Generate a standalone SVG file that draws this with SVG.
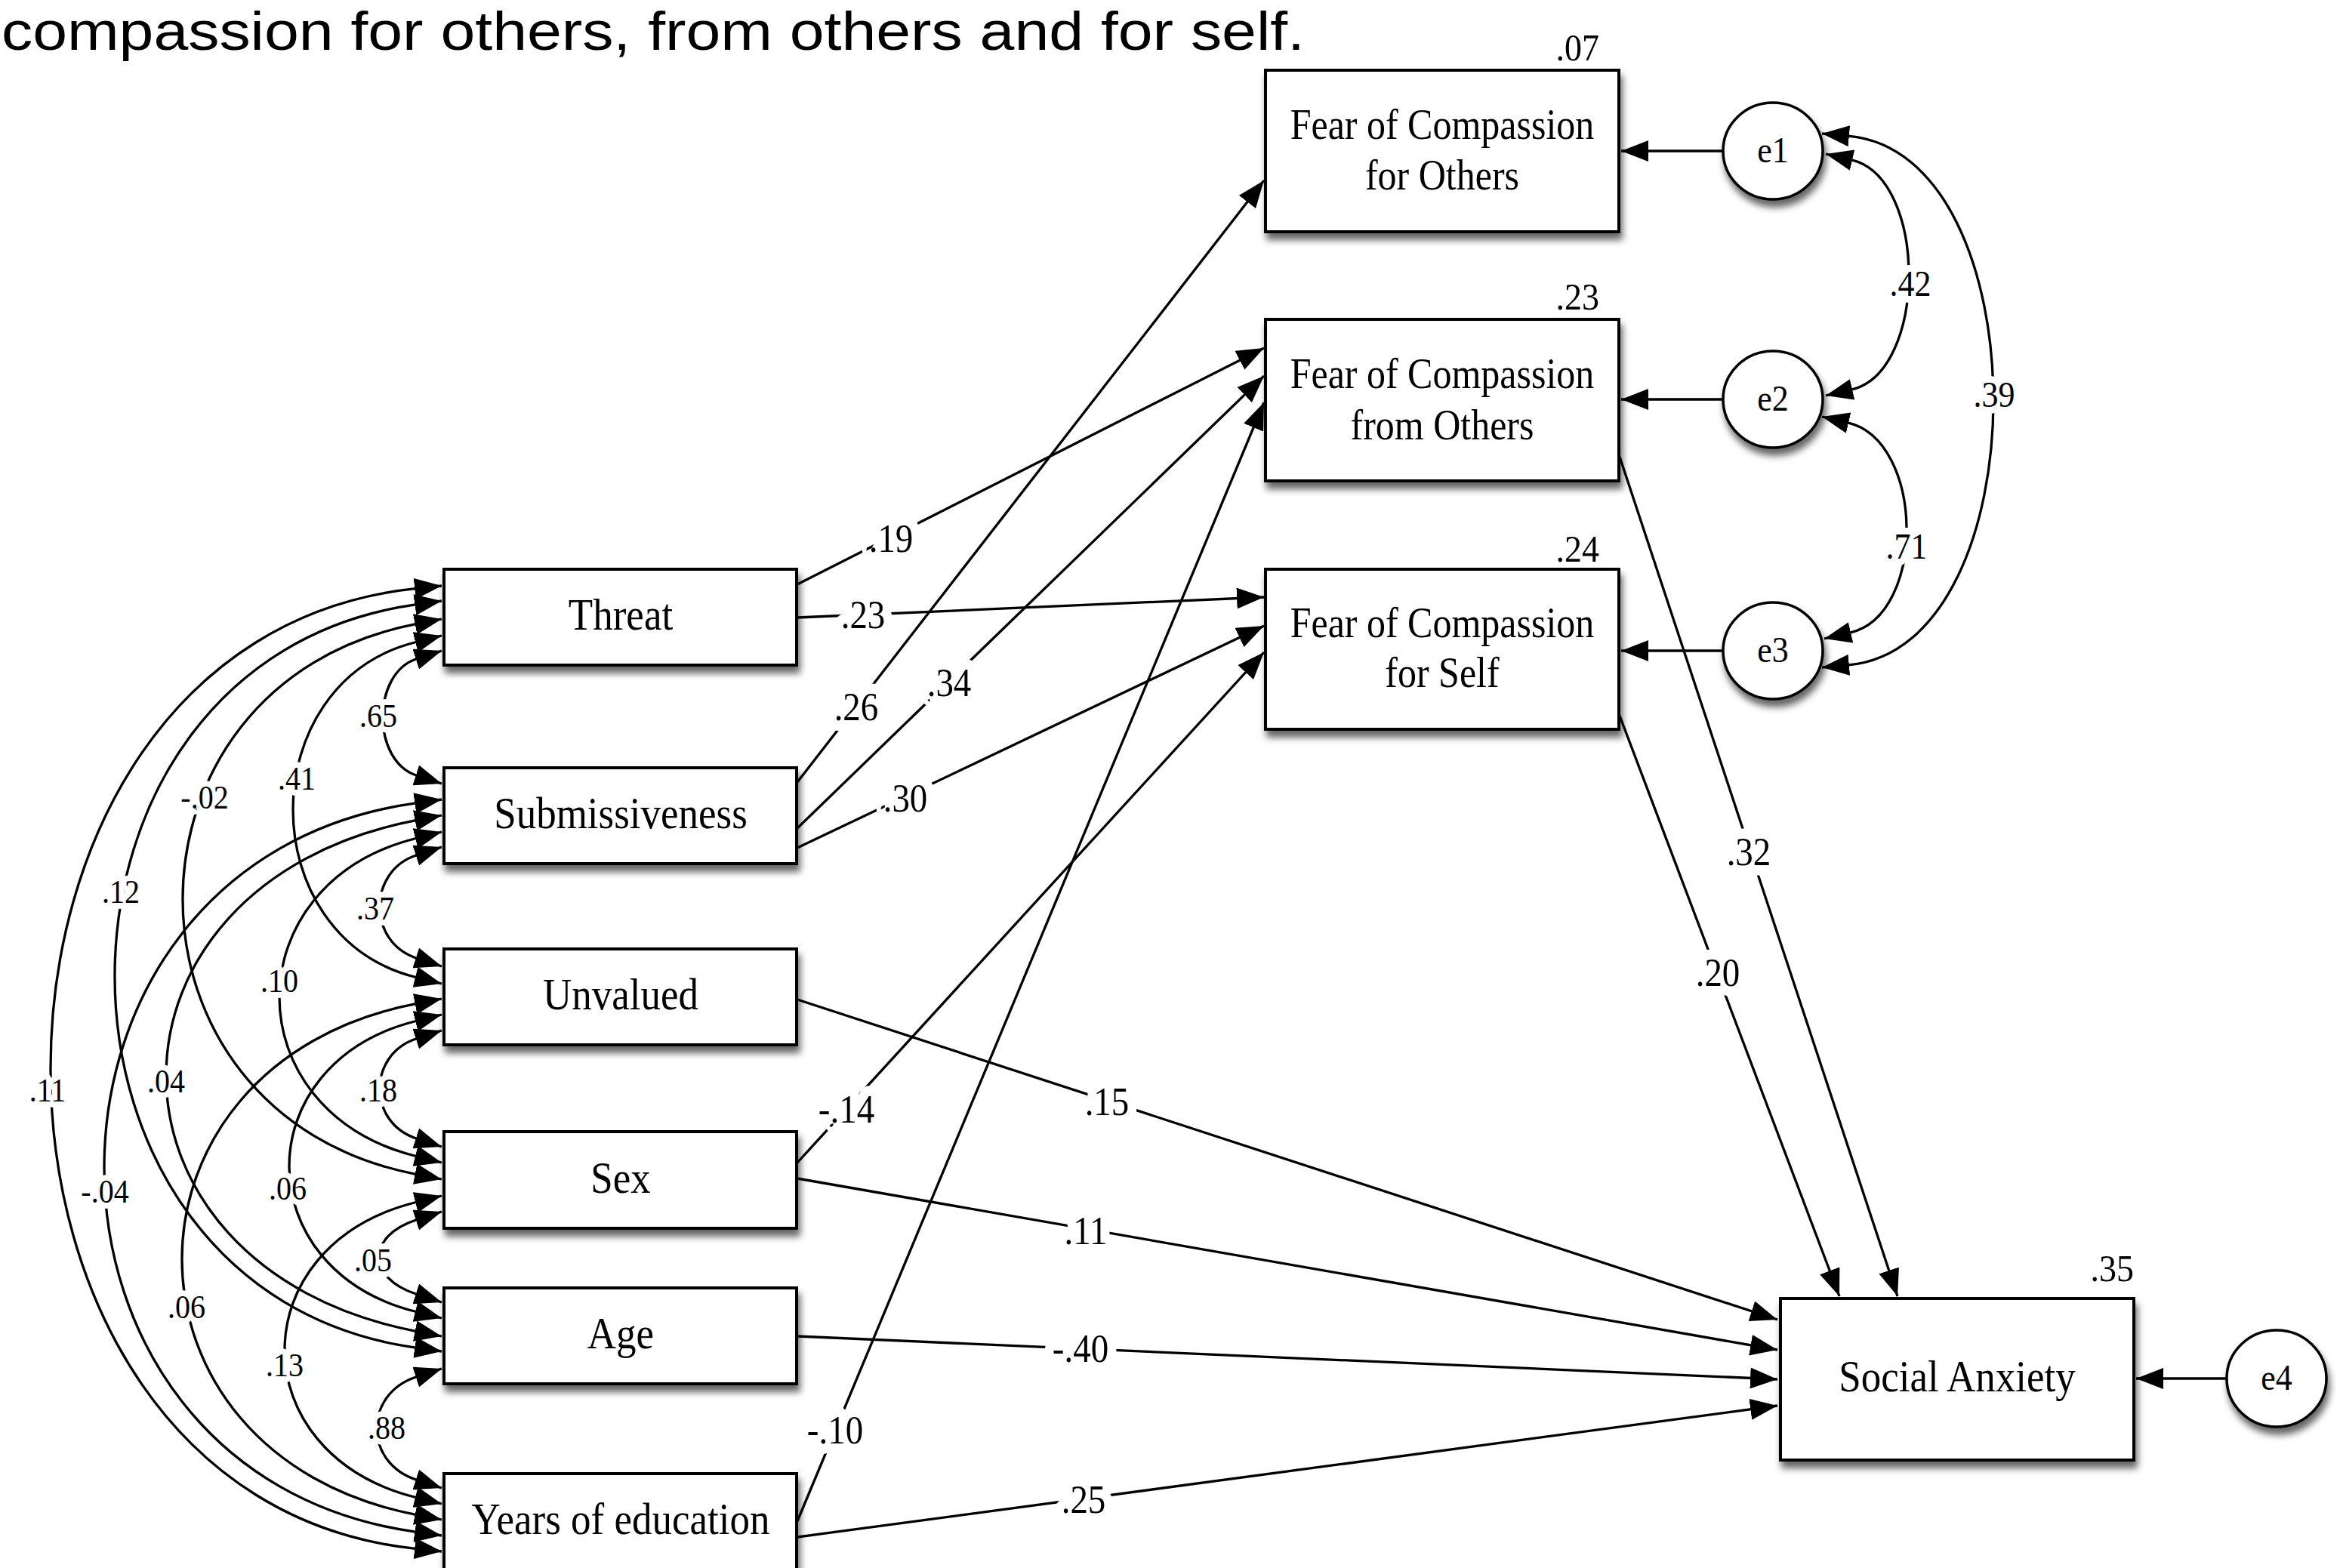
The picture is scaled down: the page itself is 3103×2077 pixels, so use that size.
<svg xmlns="http://www.w3.org/2000/svg" width="3103" height="2077" viewBox="0 0 3103 2077">
<style>
.bx{fill:#fff;stroke:#000;stroke-width:4}
.el{fill:#fff;stroke:#000;stroke-width:3.5}
.ln{fill:none;stroke:#000;stroke-width:3.3}
.ar{marker-end:url(#ah)}
.cv{marker-start:url(#ah);marker-end:url(#ah)}
.t{font-family:"Liberation Serif","Times New Roman",serif;text-anchor:middle;fill:#000;transform-box:fill-box;transform-origin:50% 80.5%;transform:scaleY(1.12)}
.nb{font-size:53px}
.nf{font-size:50px}
.ne{font-size:44px}
.r2{font-size:46px;text-anchor:end}
.lm{font-size:47px;paint-order:stroke;stroke:#fff;stroke-width:24px;stroke-linejoin:round}
.ll{font-size:40px;paint-order:stroke;stroke:#fff;stroke-width:14px;stroke-linejoin:round}
.lr{font-size:44px;paint-order:stroke;stroke:#fff;stroke-width:16px;stroke-linejoin:round}
.title{font-family:"Liberation Sans",Arial,sans-serif;font-size:72px;fill:#000}
</style>
<defs>
<filter id="sh" x="-10%" y="-15%" width="125%" height="145%">
<feDropShadow dx="3" dy="9" stdDeviation="5" flood-color="#000" flood-opacity="0.6"/>
</filter>
<marker id="ah" viewBox="0 0 36 28" refX="36" refY="14" markerWidth="36" markerHeight="28" markerUnits="userSpaceOnUse" orient="auto-start-reverse">
<path d="M0,0 L36,14 L0,28 z" fill="#000"/>
</marker>
</defs>
<rect width="3103" height="2077" fill="#fff"/>
<text class="title" x="2" y="66" textLength="1726" lengthAdjust="spacingAndGlyphs">compassion for others, from others and for self.</text>

<g id="connectors">
<path class="ln cv" d="M585,776 L550.2,779.7 C-94.1,847.4 -94.1,1983.6 550.2,2051.3 L585,2055"/>
<path class="ln cv" d="M585,796 L550.3,800.9 C19.2,875.5 19.2,1710.5 550.3,1785.1 L585,1790"/>
<path class="ln cv" d="M585,1059 L550.3,1063.9 C0.6,1141.1 0.6,1951.9 550.3,2029.1 L585,2034"/>
<path class="ln cv" d="M585,820 L550.6,826.7 C139.1,906.7 139.1,1475.3 550.6,1555.3 L585,1562"/>
<path class="ln cv" d="M585,1080 L550.6,1086.7 C109.8,1172.4 109.8,1677.6 550.6,1763.3 L585,1770"/>
<path class="ln cv" d="M585,1323 L550.6,1329.7 C137.8,1409.9 137.8,1926.1 550.6,2006.3 L585,2013"/>
<path class="ln cv" d="M585,842 L551,850.5 C333.7,904.7 333.7,1240.3 551,1294.5 L585,1303"/>
<path class="ln cv" d="M585,1102 L551,1110.5 C309.7,1170.7 309.7,1471.3 551,1531.5 L585,1540"/>
<path class="ln cv" d="M585,1344 L551,1352.5 C327,1408.3 327,1681.7 551,1737.5 L585,1746"/>
<path class="ln cv" d="M585,1584 L551,1592.5 C319,1650.3 319,1925.7 551,1983.5 L585,1992"/>
<path class="ln cv" d="M585,862 L551.7,872.8 C492.1,892.2 492.1,1007.8 551.7,1027.2 L585,1038"/>
<path class="ln cv" d="M585,1122 L551.7,1132.8 C486.6,1154 486.6,1248 551.7,1269.2 L585,1280"/>
<path class="ln cv" d="M585,1365 L551.7,1375.8 C486.6,1397 486.6,1487 551.7,1508.2 L585,1519"/>
<path class="ln cv" d="M585,1605 L551.7,1615.8 C485.4,1637.3 485.4,1692.7 551.7,1714.2 L585,1725"/>
<path class="ln cv" d="M585,1813 L551.7,1823.8 C481.4,1846.6 481.4,1937.4 551.7,1960.2 L585,1971"/>
<path class="ln cv" d="M2413,177 L2447.9,180.1 C2704,202.5 2704,858.5 2447.9,880.9 L2413,884"/>
<path class="ln cv" d="M2418,204 L2452.1,211.9 C2553.3,235.3 2553.3,492.7 2452.1,516.1 L2418,524"/>
<path class="ln cv" d="M2413,552 L2447.1,559.9 C2549,583.4 2552,814.6 2450.1,838.1 L2416,846"/>
<path class="ln ar" d="M1056,774 L1674,461"/>
<path class="ln ar" d="M1056,818 L1674,791"/>
<path class="ln ar" d="M1056,1036 L1674,239"/>
<path class="ln ar" d="M1056,1097 L1674,498"/>
<path class="ln ar" d="M1056,1123 L1674,829"/>
<path class="ln ar" d="M1056,1540 L1674,864"/>
<path class="ln ar" d="M1056,2015 L1674,533"/>
<path class="ln ar" d="M1056,1324 L2354,1748"/>
<path class="ln ar" d="M1056,1561 L2354,1788"/>
<path class="ln ar" d="M1056,1770 L2354,1827"/>
<path class="ln ar" d="M1056,2036 L2354,1862"/>
<path class="ln ar" d="M2145,605 L2513,1717"/>
<path class="ln ar" d="M2145,948 L2436,1717"/>
<path class="ln ar" d="M2283,200 L2147,200"/>
<path class="ln ar" d="M2283,529 L2147,529"/>
<path class="ln ar" d="M2283,862 L2147,862"/>
<path class="ln ar" d="M2950,1826 L2829,1826"/>
</g>

<g id="labels">
<text class="t ll" x="501" y="963">.65</text>
<text class="t ll" x="271" y="1071">-.02</text>
<text class="t ll" x="393" y="1046">.41</text>
<text class="t ll" x="160" y="1196">.12</text>
<text class="t ll" x="497" y="1218">.37</text>
<text class="t ll" x="370" y="1314">.10</text>
<text class="t ll" x="63" y="1459">.11</text>
<text class="t ll" x="220" y="1447">.04</text>
<text class="t ll" x="501" y="1459">.18</text>
<text class="t ll" x="139" y="1593">-.04</text>
<text class="t ll" x="381" y="1589">.06</text>
<text class="t ll" x="494" y="1684">.05</text>
<text class="t ll" x="247" y="1746">.06</text>
<text class="t ll" x="377" y="1823">.13</text>
<text class="t ll" x="512" y="1906">.88</text>
<text class="t lm" x="1180" y="731">.19</text>
<text class="t lm" x="1143" y="832">.23</text>
<text class="t lm" x="1134" y="954">.26</text>
<text class="t lm" x="1257" y="922">.34</text>
<text class="t lm" x="1199" y="1075">.30</text>
<text class="t lm" x="1121" y="1487">-.14</text>
<text class="t lm" x="1106" y="1912">-.10</text>
<text class="t lm" x="1466" y="1477">.15</text>
<text class="t lm" x="1438" y="1648">.11</text>
<text class="t lm" x="1431" y="1804">-.40</text>
<text class="t lm" x="1435" y="2004">.25</text>
<text class="t lm" x="2316" y="1146">.32</text>
<text class="t lm" x="2275" y="1306">.20</text>
<text class="t lr" x="2530" y="392">.42</text>
<text class="t lr" x="2525" y="740">.71</text>
<text class="t lr" x="2641" y="539">.39</text>
</g>

<g id="node-threat">
<rect class="bx" x="588" y="754" width="467" height="127" filter="url(#sh)"/>
<text class="t nb" x="822" y="834">Threat</text>
</g>
<g id="node-submissiveness">
<rect class="bx" x="588" y="1017" width="467" height="127" filter="url(#sh)"/>
<text class="t nb" x="822" y="1097">Submissiveness</text>
</g>
<g id="node-unvalued">
<rect class="bx" x="588" y="1257" width="467" height="127" filter="url(#sh)"/>
<text class="t nb" x="822" y="1337">Unvalued</text>
</g>
<g id="node-sex">
<rect class="bx" x="588" y="1499" width="467" height="128" filter="url(#sh)"/>
<text class="t nb" x="822" y="1580">Sex</text>
</g>
<g id="node-age">
<rect class="bx" x="588" y="1706" width="467" height="127" filter="url(#sh)"/>
<text class="t nb" x="822" y="1786">Age</text>
</g>
<g id="node-years">
<rect class="bx" x="588" y="1952" width="467" height="127" filter="url(#sh)"/>
<text class="t nb" x="822" y="2032">Years of education</text>
</g>
<g id="node-foc-others">
<rect class="bx" x="1676" y="93" width="468" height="214" filter="url(#sh)"/>
<text class="t nf" x="1910" y="184">Fear of Compassion</text>
<text class="t nf" x="1910" y="251">for Others</text>
<text class="t r2" x="2118" y="80">.07</text>
</g>
<g id="node-foc-from">
<rect class="bx" x="1676" y="423" width="468" height="214" filter="url(#sh)"/>
<text class="t nf" x="1910" y="514">Fear of Compassion</text>
<text class="t nf" x="1910" y="582">from Others</text>
<text class="t r2" x="2118" y="410">.23</text>
</g>
<g id="node-foc-self">
<rect class="bx" x="1676" y="754" width="468" height="212" filter="url(#sh)"/>
<text class="t nf" x="1910" y="844">Fear of Compassion</text>
<text class="t nf" x="1910" y="910">for Self</text>
<text class="t r2" x="2118" y="744">.24</text>
</g>
<g id="node-social-anxiety">
<rect class="bx" x="2358" y="1720" width="468" height="214" filter="url(#sh)"/>
<text class="t nb" x="2592" y="1843">Social Anxiety</text>
<text class="t r2" x="2826" y="1697">.35</text>
</g>
<g id="node-e1">
<ellipse class="el" cx="2348" cy="200" rx="66" ry="64" filter="url(#sh)"/>
<text class="t ne" x="2348" y="215">e1</text>
</g>
<g id="node-e2">
<ellipse class="el" cx="2348" cy="529" rx="66" ry="64" filter="url(#sh)"/>
<text class="t ne" x="2348" y="544">e2</text>
</g>
<g id="node-e3">
<ellipse class="el" cx="2348" cy="862" rx="66" ry="64" filter="url(#sh)"/>
<text class="t ne" x="2348" y="877">e3</text>
</g>
<g id="node-e4">
<ellipse class="el" cx="3015" cy="1826" rx="66" ry="64" filter="url(#sh)"/>
<text class="t ne" x="3015" y="1841">e4</text>
</g>
</svg>
